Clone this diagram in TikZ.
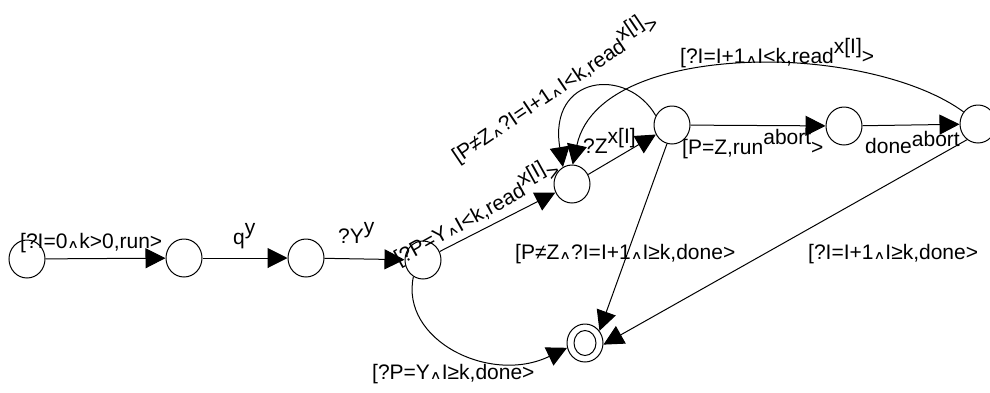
\documentclass[tikz,border=0pt]{standalone}
\usepackage{fontspec}
\usepackage{graphicx}
\setmainfont{Liberation Sans}
\newfontfamily\djv{DejaVu Sans}
\usetikzlibrary{arrows.meta,shapes.geometric}
\newcommand\wg{{\djv\fontsize{17}{17}\selectfont\scalebox{0.95}[0.7]{∧}}}
\newcommand\sups[1]{\raisebox{10pt}{#1}}
\begin{document}
\begin{tikzpicture}[x=1pt,y=-1pt,
  st/.style={ellipse,draw,line width=1pt,minimum width=36pt,minimum height=38pt,inner sep=0pt},
  inner/.style={ellipse,draw,line width=1pt,minimum width=22pt,minimum height=25pt,inner sep=0pt},
  edge/.style={line width=1pt,-{Triangle[length=20pt,width=20pt]}},
  lbl/.style={font=\fontsize{21}{21}\selectfont,inner sep=0pt,anchor=base west},
]
\useasboundingbox (0,0) rectangle (990,392);
\node[st] (n0) at (27,259) {};
\node[st] (n1) at (184,258) {};
\node[st] (n2) at (306,258) {};
\node[st] (n3) at (423,260) {};
\node[st] (n4) at (572,184) {};
\node[st] (n5) at (672,125) {};
\node[st] (n6) at (844,126) {};
\node[st] (n7) at (978,124) {};
\node[st] (fin) at (585,343) {};
\node[inner] (finin) at (fin) {};

\draw[edge] (n0) -- (n1);
\draw[edge] (n1) -- (n2);
\draw[edge] (n2) -- (n3);
\draw[edge] (n3) -- (n4);
\draw[edge] (n4) -- (n5);
\draw[edge] (n5) -- (n6);
\draw[edge] (n6) -- (n7);
\draw[edge] (n5.-105) -- (fin.40);
\draw[edge] (n7.-125) -- (fin.-5);
\draw[edge] (n5.150) .. controls (627,66) and (548,75) .. (n4.118);
\draw[edge] (n7.140) .. controls (920,80) and (840,62) .. (767,62) .. controls (680,62) and (590,85) .. (n4.88);
\draw[edge] (n3.-120) .. controls (400,340) and (490,385) .. (fin.195);

\node[lbl] (l01) at (20,248) {[?I=0\wg k>0,run>};
\node[lbl] (l12) at (233,244) {q\sups{y}};
\node[lbl] (l23) at (338,243) {?Y\sups{y}};
\node[lbl,rotate=29] (l34) at (399,266) {[?P=Y\wg I<k,read\sups{x[I]}>};
\node[lbl,rotate=34] (l54) at (458,164) {[P≠Z\wg ?I=I+1\wg I<k,read\sups{x[I]}>};
\node[lbl] (l74) at (680,63) {[?I=I+1\wg I<k,read\sups{x[I]}>};
\node[lbl] (l45) at (583,153) {?Z\sups{x[I]}};
\node[lbl] (l56) at (682,154) {[P=Z,run\sups{abort}>};
\node[lbl] (l67) at (865,153) {done\raisebox{7pt}{abort}};
\node[lbl] (l5f) at (515,259) {[P≠Z\wg ?I=I+1\wg I≥k,done>};
\node[lbl] (l7f) at (808,259) {[?I=I+1\wg I≥k,done>};
\node[lbl] (l3f) at (372,379) {[?P=Y\wg I≥k,done>};
\end{tikzpicture}
\end{document}
